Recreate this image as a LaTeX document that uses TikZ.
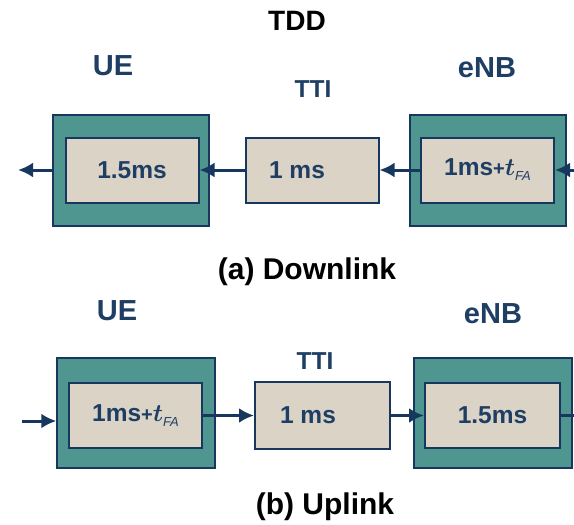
\documentclass[tikz,border=0pt]{standalone}
\usepackage{fontspec}
\setmainfont{Liberation Sans}
\usetikzlibrary{arrows.meta}
\definecolor{tealfill}{HTML}{4F9691}
\definecolor{navy}{HTML}{17375E}
\definecolor{sand}{HTML}{DAD3C6}
\definecolor{labelblue}{HTML}{1F3E64}
\newcommand{\tfa}{1ms{\fontsize{20}{24}\selectfont+}{\boldmath$t$}{\fontsize{13}{14}\selectfont\mdseries\itshape\raisebox{-5pt}{FA}}}
\begin{document}
\begin{tikzpicture}[x=1pt,y=-1pt]
\newcommand{\rowa}{170}
\newcommand{\rowb}{415.5}
\tikzstyle{outerbox}=[draw=navy,line width=1.5pt,fill=tealfill,minimum width=156pt,minimum height=111pt,inner sep=0pt]
\tikzstyle{innerbox}=[draw=navy,line width=2pt,fill=sand,minimum width=133pt,minimum height=65pt,inner sep=0pt,text=labelblue,font=\bfseries\fontsize{24.5}{29}\selectfont]
\tikzstyle{boxtext}=[inner sep=0pt,text=labelblue,font=\bfseries\fontsize{24.5}{29}\selectfont]
\tikzstyle{sidelabel}=[text=labelblue,font=\bfseries\fontsize{29}{34}\selectfont]
\tikzstyle{ttilabel}=[text=labelblue,font=\bfseries\fontsize{24.5}{29}\selectfont]
\tikzstyle{caption}=[text=black,font=\bfseries\fontsize{30}{35}\selectfont]
\tikzstyle{edge}=[draw=navy,line width=3pt,-{Latex[length=15pt,width=15pt]}]
\tikzstyle{plain}=[draw=navy,line width=3pt]
\useasboundingbox (0,0) rectangle (574,525);
% (a) downlink
\node[caption,font=\bfseries\fontsize{28}{33}\selectfont] (tdd) at (297,21) {TDD};
\node[sidelabel] (ueA) at (113,66) {UE};
\node[sidelabel] (enbA) at (487,68) {eNB};
\node[ttilabel] (ttiA) at (313,89) {TTI};
\node[outerbox] (ueoutA) at (131,170.5) {};
\node[innerbox] (ueinA) at (132,\rowa) {1.5ms};
\node[innerbox] (ttiboxA) at (312,\rowa) {};
\node[boxtext] (ttitxtA) at (297,\rowa) {1 ms};
\node[outerbox] (enboutA) at (488,170.5) {};
\node[innerbox] (enbinA) at (487.5,\rowa) {\tfa};
\coordinate (leftA) at (18,\rowa);
\coordinate (rightA) at (576,\rowa);
\draw[edge] (ueoutA.west |- leftA) -- (leftA);
\draw[edge] (ttiboxA.west) -- (ueinA.east);
\draw[edge] (enbinA.west) -- (ttiboxA.east);
\draw[edge] (rightA) -- (enbinA.east);
\node[caption] (capA) at (307,272) {(a) Downlink};
% (b) uplink
\node[sidelabel] (ueB) at (117,311) {UE};
\node[sidelabel] (enbB) at (493,314) {eNB};
\node[ttilabel] (ttiB) at (315,361) {TTI};
\node[outerbox,minimum width=158pt,minimum height=110pt] (ueoutB) at (136,413) {};
\node[innerbox] (ueinB) at (135.5,\rowb) {\tfa};
\node[innerbox,minimum width=135pt,minimum height=67pt] (ttiboxB) at (322.5,\rowb) {};
\node[boxtext] (ttitxtB) at (308,\rowb) {1 ms};
\node[outerbox,minimum width=158pt,minimum height=110pt] (enboutB) at (493,413) {};
\node[innerbox,minimum width=135pt] (enbinB) at (492.5,\rowb) {1.5ms};
\coordinate (leftB) at (22,421);
\coordinate (rightB) at (576,\rowb);
\draw[edge] (leftB) -- (leftB -| ueoutB.west);
\draw[edge] (ueinB.east) -- (ttiboxB.west);
\draw[edge] (ttiboxB.east) -- (enbinB.west);
\draw[plain] (enbinB.east) -- (rightB);
\node[caption] (capB) at (325,507) {(b) Uplink};
\end{tikzpicture}
\end{document}
